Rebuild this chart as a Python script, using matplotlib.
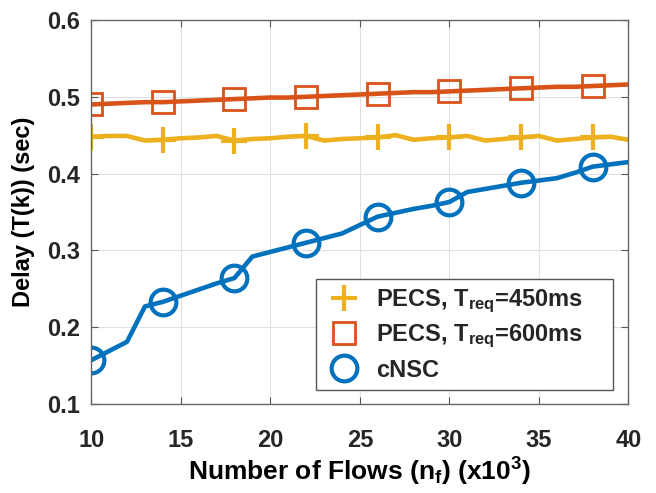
import matplotlib
matplotlib.use("Agg")
import matplotlib.pyplot as plt

plt.rcParams['font.family'] = ['Liberation Sans', 'DejaVu Sans']
plt.rcParams['font.weight'] = 'bold'
plt.rcParams['mathtext.fontset'] = 'custom'
plt.rcParams['mathtext.rm'] = 'Liberation Sans:bold'
plt.rcParams['mathtext.bf'] = 'Liberation Sans:bold'
plt.rcParams['mathtext.it'] = 'Liberation Sans:bold'
plt.rcParams['mathtext.default'] = 'bf'
plt.rcParams['text.color'] = '#262626'

flows = list(range(10, 41))

pecs_450 = [0.448, 0.449, 0.449, 0.443, 0.444, 0.446, 0.447, 0.449, 0.443, 0.445,
            0.446, 0.448, 0.449, 0.443, 0.445, 0.446, 0.447, 0.450, 0.444, 0.446,
            0.447, 0.449, 0.443, 0.445, 0.447, 0.449, 0.443, 0.445, 0.447, 0.448,
            0.444]
pecs_600 = [0.490, 0.491, 0.492, 0.493, 0.493, 0.494, 0.495, 0.496, 0.497, 0.498,
            0.499, 0.499, 0.500, 0.501, 0.502, 0.503, 0.504, 0.505, 0.506, 0.506,
            0.507, 0.508, 0.509, 0.510, 0.511, 0.512, 0.513, 0.513, 0.514, 0.515,
            0.516]
cnsc = [0.157, 0.169, 0.181, 0.227, 0.233, 0.241, 0.249, 0.257, 0.264, 0.292,
        0.298, 0.304, 0.310, 0.316, 0.322, 0.333, 0.344, 0.349, 0.354, 0.358,
        0.363, 0.376, 0.380, 0.384, 0.388, 0.391, 0.394, 0.401, 0.409, 0.412,
        0.415]

labels = ['PECS, T$_{req}$=450ms', 'PECS, T$_{req}$=600ms', 'cNSC']
colors = ['#EDB120', '#D95319', '#0072BD']

fig = plt.figure(figsize=(6.56, 4.93), dpi=100)
ax = fig.add_axes([0.139, 0.1805, 0.819, 0.779])

ax.plot(flows, pecs_450, color=colors[0], lw=3.3, marker='+', ms=19, mew=3,
        markevery=4, label=labels[0])
ax.plot(flows, pecs_600, color=colors[1], lw=3.3, marker='s', ms=15.5, mew=2,
        mfc='none', markevery=4, label=labels[1])
ax.plot(flows, cnsc, color=colors[2], lw=3.3, marker='o', ms=18.5, mew=3,
        mfc='none', markevery=4, label=labels[2])

ax.set_xlim(10, 40)
ax.set_ylim(0.1, 0.6)
ax.set_xticks(range(10, 41, 5))
ax.set_yticks([0.1, 0.2, 0.3, 0.4, 0.5, 0.6])
ax.grid(True, color='#e0e0e0', lw=0.8)
ax.tick_params(direction='in', top=True, right=True, labelsize=17, length=5,
               width=0.8, colors='#555555', labelcolor='#262626')
ax.tick_params(axis='x', pad=18)
ax.tick_params(axis='y', pad=8)
for s in ax.spines.values():
    s.set_color('#666666')
    s.set_linewidth(1.0)

ax.set_xlabel('Number of Flows (n$_f$) (x10$^3$)', fontsize=19, fontweight='bold',
              labelpad=3)
ax.set_ylabel('Delay (T(k)) (sec)', fontsize=17, fontweight='bold', labelpad=9)

leg = ax.legend(loc='lower left', mode='expand', bbox_to_anchor=(0.418, 0.0365, 0.5535, 0.3),
                borderaxespad=0, fontsize=17, fancybox=False, framealpha=1,
                edgecolor='#555555', borderpad=0.35, labelspacing=0.35,
                handlelength=1.7, handletextpad=0.5)
leg.get_frame().set_linewidth(1.0)
for h in leg.legend_handles:
    h.set_linestyle('none')

fig.savefig('out.png', dpi=100)
